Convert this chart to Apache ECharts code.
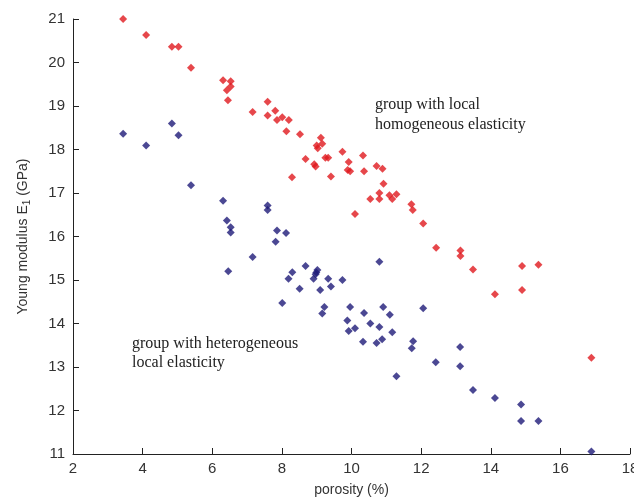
<!DOCTYPE html>
<html>
<head>
<meta charset="utf-8">
<script src="https://cdn.jsdelivr.net/npm/echarts@6/dist/echarts.min.js"></script>
<style>
  html, body { margin: 0; padding: 0; background: #fff; }
  #chart { width: 634px; height: 500px; }
</style>
</head>
<body>
<div id="chart"></div>
<script>
// 坐标轴刻度
const xTicks = [2, 4, 6, 8, 10, 12, 14, 16, 18];
const yTicks = [11, 12, 13, 14, 15, 16, 17, 18, 19, 20, 21];

// 均质组 (红色)
const homoPorosity = [3.44, 4.10, 4.84, 5.03, 5.39, 6.31, 6.53, 6.53, 6.42, 6.45,
    7.16, 7.59, 7.59, 7.81, 7.86, 8.01, 8.20, 8.13, 8.52, 9.12,
    9.16, 9.00, 9.03, 8.68, 8.93, 8.97, 9.25, 9.33, 8.29, 9.41,
    9.74, 9.92, 9.89, 9.96, 10.33, 10.36, 10.72, 10.89, 10.92, 10.80,
    10.80, 10.54, 11.09, 11.17, 11.29, 10.10, 11.72, 11.76, 12.06, 12.43,
    13.13, 13.13, 13.49, 14.90, 15.37, 14.12, 14.90, 16.89];
const homoModulus = [21.00, 20.63, 20.36, 20.36, 19.88, 19.59, 19.57, 19.45, 19.36, 19.13,
    18.86, 19.10, 18.78, 18.89, 18.68, 18.74, 18.68, 18.42, 18.35, 18.27,
    18.13, 18.09, 18.03, 17.78, 17.66, 17.61, 17.81, 17.81, 17.36, 17.38,
    17.95, 17.71, 17.53, 17.50, 17.86, 17.50, 17.62, 17.56, 17.21, 17.00,
    16.86, 16.86, 16.95, 16.86, 16.97, 16.52, 16.74, 16.61, 16.30, 15.74,
    15.68, 15.55, 15.24, 15.32, 15.35, 14.67, 14.77, 13.21];

// 非均质组 (蓝色)
const heteroPorosity = [3.44, 4.10, 4.84, 5.03, 5.39, 6.31, 6.42, 6.53, 6.53, 7.59,
    7.59, 7.86, 7.82, 8.12, 6.46, 7.16, 8.01, 8.19, 8.30, 8.68,
    8.51, 9.02, 8.99, 8.97, 8.91, 9.33, 9.41, 9.10, 9.74, 10.80,
    9.22, 9.16, 9.96, 9.88, 9.92, 10.10, 10.36, 10.54, 10.91, 11.10,
    10.80, 11.17, 10.33, 10.72, 10.88, 12.06, 11.77, 11.73, 11.29, 13.12,
    13.12, 12.42, 13.49, 14.12, 14.87, 14.87, 15.37, 16.89];
const heteroModulus = [18.36, 18.09, 18.60, 18.33, 17.18, 16.82, 16.37, 16.21, 16.09, 16.71,
    16.61, 16.14, 15.88, 16.08, 15.20, 15.53, 14.47, 15.03, 15.18, 15.32,
    14.80, 15.23, 15.17, 15.13, 15.03, 15.03, 14.85, 14.77, 15.00, 15.42,
    14.38, 14.23, 14.38, 14.07, 13.83, 13.89, 14.24, 14.00, 14.38, 14.20,
    13.92, 13.80, 13.58, 13.55, 13.64, 14.35, 13.59, 13.43, 12.79, 13.46,
    13.02, 13.11, 12.47, 12.29, 12.14, 11.76, 11.76, 11.06];

// 注释文字
const homoLabel = ['group with local', 'homogeneous elasticity'];
const heteroLabel = ['group with heterogeneous', 'local elasticity'];

function zip(xs, ys) {
    return xs.map((x, i) => [x, ys[i]]);
}

function init() {
    const chart = echarts.init(document.getElementById('chart'));
    const axisColor = '#222';
    const labelFont = 'Liberation Sans, Arial, sans-serif';

    const option = {
        animation: false,
        grid: { left: 73, right: 4, top: 19, bottom: 46, outerBoundsMode: 'none' },
        xAxis: {
            type: 'value',
            min: xTicks[0],
            max: xTicks[xTicks.length - 1],
            interval: 2,
            name: 'porosity (%)',
            nameLocation: 'middle',
            nameGap: 29,
            nameTextStyle: { fontFamily: labelFont, fontSize: 14, color: '#333' },
            axisLine: { show: true, onZero: false, lineStyle: { color: axisColor, width: 1 } },
            axisTick: { show: true, inside: true, length: 6, lineStyle: { color: axisColor, width: 1 } },
            axisLabel: { fontFamily: labelFont, fontSize: 15, color: '#333', margin: 7, hideOverlap: false },
            splitLine: { show: false }
        },
        yAxis: {
            type: 'value',
            min: yTicks[0],
            max: yTicks[yTicks.length - 1],
            interval: 1,
            name: '{a|Young modulus E}{b|1}{a| (GPa)}',
            nameLocation: 'middle',
            nameGap: 41,
            nameTextStyle: {
                rich: {
                    a: { fontFamily: labelFont, fontSize: 14, color: '#333' },
                    b: { fontFamily: labelFont, fontSize: 10, color: '#333', padding: [8, 0, 0, 0] }
                }
            },
            axisLine: { show: true, onZero: false, lineStyle: { color: axisColor, width: 1 } },
            axisTick: { show: true, inside: true, length: 6, lineStyle: { color: axisColor, width: 1 } },
            axisLabel: { fontFamily: labelFont, fontSize: 15, color: '#333', margin: 8 },
            splitLine: { show: false }
        },
        series: [
            {
                name: 'homogeneous',
                type: 'scatter',
                symbol: 'diamond',
                symbolSize: 8,
                itemStyle: { color: '#e0191e' },
                data: zip(homoPorosity, homoModulus)
            },
            {
                name: 'heterogeneous',
                type: 'scatter',
                symbol: 'diamond',
                symbolSize: 8,
                itemStyle: { color: '#1e1a78' },
                data: zip(heteroPorosity, heteroModulus)
            }
        ],
        graphic: [
            {
                type: 'text',
                left: 375,
                top: 95,
                style: {
                    text: homoLabel.join('\n'),
                    font: '16px "Liberation Serif", "Times New Roman", serif',
                    fill: '#222',
                    lineHeight: 20
                }
            },
            {
                type: 'text',
                left: 132,
                top: 334,
                style: {
                    text: heteroLabel.join('\n'),
                    font: '16px "Liberation Serif", "Times New Roman", serif',
                    fill: '#222',
                    lineHeight: 19
                }
            }
        ]
    };

    chart.setOption(option);
}

window.addEventListener('DOMContentLoaded', init);
</script>
</body>
</html>
